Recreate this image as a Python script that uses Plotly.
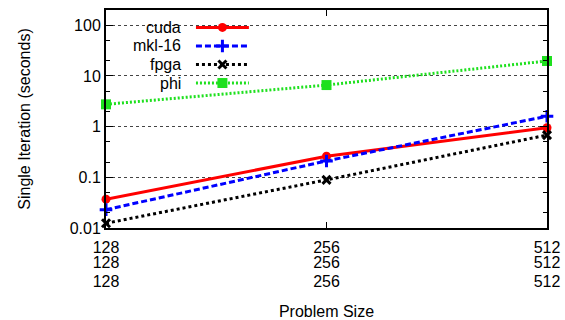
import math
import plotly.graph_objects as go

# ---- data ----
problem_sizes = [128, 256, 512]
size_labels = ["128", "256", "512"]
series_names = ["cuda", "mkl-16", "fpga", "phi"]
cuda = [0.037, 0.26, 0.95]
mkl16 = [0.023, 0.21, 1.6]
fpga = [0.0124, 0.089, 0.68]
phi = [2.75, 6.6, 19.7]
y_ticks = [0.01, 0.1, 1, 10, 100]
y_tick_labels = ["0.01", "0.1", "1", "10", "100"]
y_minor = [m * 10 ** e for e in range(-2, 3) for m in (2, 5)]

# ---- styles ----
FONT = "Liberation Sans, Arial, Helvetica, sans-serif"
styles = [
    dict(color="#ff0000", dash="solid", width=3, symbol="circle", msize=9, mlw=0),
    dict(color="#0000ff", dash="6px,3px", width=3, symbol="cross-thin", msize=9, mlw=3),
    dict(color="#000000", dash="3px,3px", width=3, symbol="x-thin", msize=8, mlw=3),
    dict(color="#1ee01e", dash="2px,2px", width=3, symbol="square", msize=10, mlw=0),
]
values = [cuda, mkl16, fpga, phi]

fig = go.Figure()

for name, vals, st in zip(series_names, values, styles):
    fig.add_trace(go.Scatter(
        x=problem_sizes, y=vals, name=name, mode="lines+markers",
        line=dict(color=st["color"], dash=st["dash"], width=st["width"]),
        marker=dict(symbol=st["symbol"], size=st["msize"], color=st["color"],
                    line=dict(color=st["color"], width=st["mlw"])),
        showlegend=False, cliponaxis=False,
    ))

# invisible carriers so the extra tick-label rows (x3, x4) get drawn
for ax in ("x3", "x4"):
    fig.add_trace(go.Scatter(
        x=problem_sizes, y=cuda, xaxis=ax, yaxis="y", mode="markers",
        marker=dict(opacity=0, size=1), showlegend=False, hoverinfo="skip"))

# ---- custom gnuplot-style legend (text left, sample right) ----
leg_rows = [0.92, 0.835, 0.75, 0.665]
leg_text_x = 0.175
leg_line = [0.204, 0.324]
for name, st, yy in zip(series_names, styles, leg_rows):
    fig.add_annotation(xref="paper", yref="paper", x=leg_text_x, y=yy,
                       text=name, showarrow=False, xanchor="right", yanchor="middle",
                       font=dict(family=FONT, size=16, color="black"))
    fig.add_trace(go.Scatter(
        x=leg_line, y=[yy, yy], xaxis="x2", yaxis="y2", mode="lines",
        line=dict(color=st["color"], dash=st["dash"], width=st["width"]),
        showlegend=False, hoverinfo="skip"))
    fig.add_trace(go.Scatter(
        x=[sum(leg_line) / 2], y=[yy], xaxis="x2", yaxis="y2", mode="markers",
        marker=dict(symbol=st["symbol"], size=st["msize"], color=st["color"],
                    line=dict(color=st["color"], width=st["mlw"])),
        showlegend=False, hoverinfo="skip"))

# white legend box hides grid lines behind it
fig.add_shape(type="rect", xref="paper", yref="paper", x0=0.01, x1=0.345, y0=0.625, y1=0.99,
              fillcolor="white", line=dict(width=0), layer="between")

x_range = [math.log10(min(problem_sizes)) - 1e-6, math.log10(max(problem_sizes)) + 1e-6]
ROW_GAP = 19
FIRST_ROW = 4
XTICK_FONT = 16


def extra_row(row):
    return dict(
        type="log", range=x_range, overlaying="x", anchor="y", side="bottom",
        tickvals=problem_sizes, ticktext=size_labels, ticks="", showline=False,
        showgrid=False, zeroline=False, automargin=False,
        tickfont=dict(size=XTICK_FONT), ticklabelstandoff=int(round(FIRST_ROW + row * ROW_GAP)),
    )


fig.update_layout(
    width=565, height=320,
    margin=dict(l=106, r=18, t=10, b=92),
    paper_bgcolor="white", plot_bgcolor="white",
    font=dict(family=FONT, size=16, color="black"),
    xaxis=dict(
        type="log", range=x_range,
        tickvals=problem_sizes, ticktext=size_labels,
        ticks="inside", ticklen=6, tickcolor="black",
        showline=True, linecolor="black", linewidth=2, mirror="ticks",
        showgrid=False, zeroline=False, automargin=False,
        title=dict(text="Problem Size", font=dict(size=16), standoff=53),
        tickfont=dict(size=XTICK_FONT), ticklabelstandoff=FIRST_ROW,
    ),
    xaxis3=extra_row(1),
    xaxis4=extra_row(2),
    yaxis=dict(
        type="log", range=[-2, 2.3],
        tickvals=y_ticks, ticktext=y_tick_labels,
        ticks="inside", ticklen=7, tickcolor="black",
        showline=True, linecolor="black", linewidth=2, mirror="ticks",
        showgrid=True, gridcolor="#444444", griddash="dot", gridwidth=1,
        minor=dict(tickvals=y_minor, ticks="inside", ticklen=4, tickcolor="black", showgrid=False),
        zeroline=False, automargin=False,
        title=dict(text="Single Iteration (seconds)", font=dict(size=16), standoff=35),
        tickfont=dict(size=16),
    ),
    xaxis2=dict(overlaying="x", range=[0, 1], visible=False),
    yaxis2=dict(overlaying="y", range=[0, 1], visible=False),
)

fig.write_html("out.html", config={"displayModeBar": False},
               post_script="document.body.style.margin='0';")
